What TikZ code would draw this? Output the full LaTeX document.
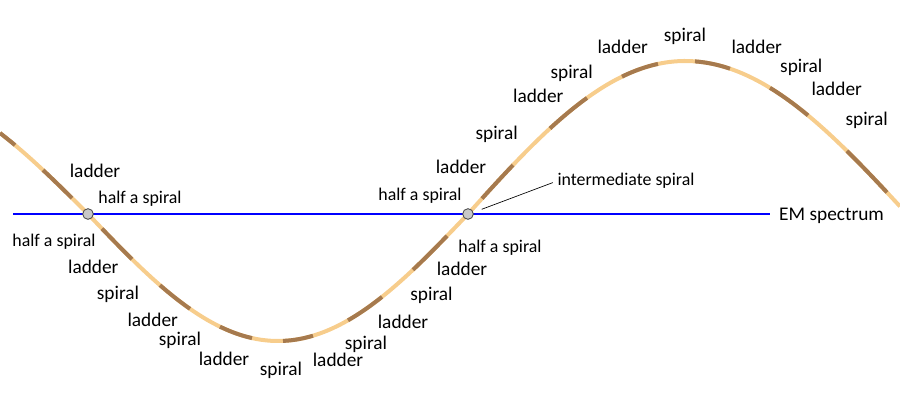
\documentclass[tikz,border=0pt]{standalone}
\usepackage{fontspec}
\setmainfont{Carlito}
\usepackage{tikz}
\usetikzlibrary{arrows}
\definecolor{strandtan}{RGB}{247,205,140}
\definecolor{rungbrown}{RGB}{166,122,78}
\definecolor{crossgray}{RGB}{200,200,200}
\tikzstyle{every node}+=[inner sep=0pt]
\tikzstyle{tag} = [anchor=base, font=\fontsize{14.5}{17}\selectfont]
\tikzstyle{small tag} = [anchor=base, font=\fontsize{13.4}{16}\selectfont]
\tikzstyle{strand} = [draw=strandtan, line width=3pt, samples=80]
\tikzstyle{rung} = [draw=rungbrown, line width=3pt, samples=20]
\tikzstyle{axis} = [draw=blue, line width=1.8pt]
\tikzstyle{crossing} = [circle, draw=black!75, fill=crossgray, line width=0.6pt, minimum size=8pt]
\tikzstyle{pointer} = [draw, line width=0.5pt, shorten >=3.5pt]

\begin{document}
\begin{tikzpicture}[x=0.75pt, y=-0.75pt,
    declare function={edge(\t)=214-127*sin((88-\t)/200*90);
                      trough(\t)=214+127*sin((\t-88)/190*90);
                      rise(\t)=214-153*sin((\t-468)/217*90);
                      fall(\t)=214-153*cos((\t-685)/222*90);}]
            \useasboundingbox (0,0) rectangle (900,400);
            % Axis
            \draw [axis] (13,214) -- (770,214) node [tag, anchor=west, xshift=6pt, yshift=-1.5pt] (em) {EM spectrum};
            % Draw strand
            \draw [strand] plot [domain=0:88] (\x,{edge(\x)})
              -- plot [domain=88:468] (\x,{trough(\x)})
              -- plot [domain=468:685] (\x,{rise(\x)})
              -- plot [domain=685:900] (\x,{fall(\x)});
            \foreach \a/\b in {0/15, 43/72}
              \draw [rung] plot [domain=\a:\b] (\x,{edge(\x)});
            \foreach \a/\b in {102/132, 160/190, 220/252, 283/313, 348/382, 413/447}
              \draw [rung] plot [domain=\a:\b] (\x,{trough(\x)});
            \foreach \a/\b in {482/513, 550/587, 622/658}
              \draw [rung] plot [domain=\a:\b] (\x,{rise(\x)});
            \foreach \a/\b in {695/730, 770/808, 847/887}
              \draw [rung] plot [domain=\a:\b] (\x,{fall(\x)});
            % Crossings
            \node [crossing] (c0) at (88,214) {};
            \node [crossing] (c1) at (468,214) {};
            % Place nodes
            \node [tag] (t0) at (95,177) {ladder};
            \node [small tag] (h0) at (140,203.3) {half a spiral};
            \node [small tag] (h1) at (54,246.7) {half a spiral};
            \node [tag] (t1) at (93.3,273.3) {ladder};
            \node [tag] (t2) at (118,299) {spiral};
            \node [tag] (t3) at (152.7,326) {ladder};
            \node [tag] (t4) at (180,345.5) {spiral};
            \node [tag] (t5) at (224,365) {ladder};
            \node [tag] (t6) at (281,375) {spiral};
            \node [tag] (t7) at (338,366.7) {ladder};
            \node [tag] (t8) at (366,349) {spiral};
            \node [tag] (t9) at (403,328.3) {ladder};
            \node [tag] (t10) at (431.5,300.5) {spiral};
            \node [tag] (t11) at (462,275) {ladder};
            \node [small tag] (h2) at (500,252.3) {half a spiral};
            \node [small tag] (h3) at (420,200) {half a spiral};
            \node [tag] (t12) at (461,173.3) {ladder};
            \node [tag] (t13) at (496.7,139) {spiral};
            \node [tag] (t14) at (538.3,102.7) {ladder};
            \node [tag] (t15) at (571.7,78.5) {spiral};
            \node [tag] (t16) at (622.7,53.3) {ladder};
            \node [tag] (t17) at (685,41.5) {spiral};
            \node [tag] (t18) at (756.7,53.3) {ladder};
            \node [tag] (t19) at (801.3,72.5) {spiral};
            \node [tag] (t20) at (836.7,95) {ladder};
            \node [tag] (t21) at (866.7,125.5) {spiral};
            \node [small tag] (inter) at (626,185.7) {intermediate spiral};
            % Draw pointer
            \coordinate (tip) at (481.7,209.3);
            \path [pointer] (tip) -- (inter.west);
          \end{tikzpicture}
\end{document}
